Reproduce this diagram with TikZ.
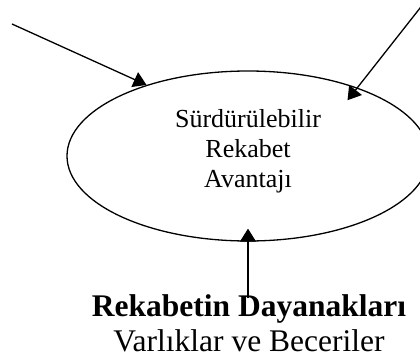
\documentclass[tikz,border=0pt]{standalone}
\usepackage{fontspec}
\setmainfont{Liberation Serif}
\usepackage{tikz}
\usetikzlibrary{shapes.geometric,arrows.meta,positioning}

\begin{document}
\begin{tikzpicture}[x=1pt, y=-1pt,
    oval/.style={ellipse, draw, line width=1.3pt, minimum width=362pt, minimum height=170pt, inner sep=0pt},
    yazi/.style={align=center, font=\fontsize{26}{30}\selectfont},
    alt/.style={anchor=base, font=\fontsize{31.5}{36}\selectfont},
    arrow/.style={-{Triangle[length=13pt,width=16pt]}, line width=1.3pt}
]
\useasboundingbox (0,0) rectangle (420,361);
\node[oval] (avantaj) at (248,156) {};
\node[yazi] (avantajyazi) at (248,151) {Sürdürülebilir\\Rekabet\\Avantajı};
\node[alt] (dayanak) at (249,316) {\textbf{Rekabetin Dayanakları}};
\node[alt] (varlik) at (249,351) {Varlıklar ve Beceriler};
\coordinate (solbas) at (12,24);
\coordinate (sagbas) at (424,3);
\coordinate (altbas) at (248,298);
\draw[arrow] (solbas) -- (avantaj.145);
\draw[arrow, shorten >=-16pt] (sagbas) -- (avantaj.32);
\draw[arrow, shorten >=-13pt] (altbas) -- (avantaj.south);
\end{tikzpicture}
\end{document}
